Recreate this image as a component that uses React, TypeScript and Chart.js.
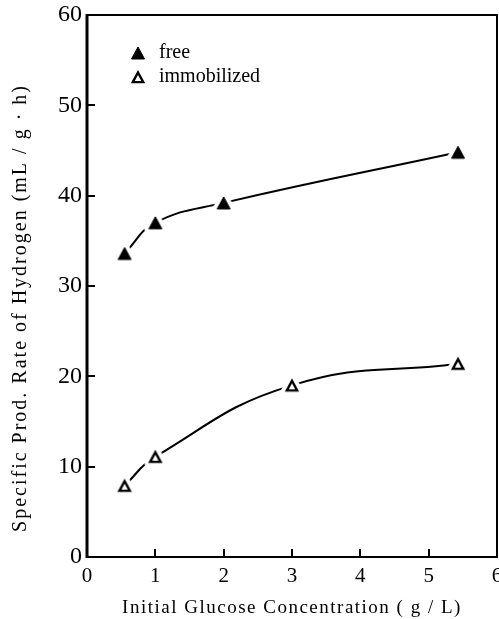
import React, { useEffect, useRef } from "react";
import { Chart, registerables } from "chart.js";

Chart.register(...registerables);

// ---- data ----
const freeX = [0.55, 1.0, 2.0, 5.43];
const freeY = [33.6, 37.0, 39.2, 44.8];
const immX = [0.55, 1.0, 3.0, 5.43];
const immY = [7.9, 11.1, 19.0, 21.4];
const xTickValues = [0, 1, 2, 3, 4, 5, 6];
const yTickValues = [0, 10, 20, 30, 40, 50, 60];
const seriesLabels = ["free", "immobilized"];
const xTitle = "Initial Glucose Concentration ( g / L)";
const yTitle = "Specific Prod. Rate of Hydrogen (mL / g · h)";

const FONT = "'Liberation Serif', 'Times New Roman', serif";

function makeTriangle(filled: boolean): HTMLCanvasElement {
  const c = document.createElement("canvas");
  c.width = 30;
  c.height = 30;
  const ctx = c.getContext("2d")!;
  const cx = 15, cy = 15;
  const w = 6.5, h = 6;
  const path = () => {
    ctx.beginPath();
    ctx.moveTo(cx, cy - h);
    ctx.lineTo(cx + w, cy + h);
    ctx.lineTo(cx - w, cy + h);
    ctx.closePath();
  };
  // white halo to break the curve near the marker
  path();
  ctx.lineJoin = "round";
  ctx.strokeStyle = "#fff";
  ctx.lineWidth = 9;
  ctx.stroke();
  ctx.fillStyle = "#fff";
  ctx.fill();
  if (filled) {
    path();
    ctx.fillStyle = "#000";
    ctx.fill();
    ctx.lineJoin = "miter";
    ctx.strokeStyle = "#000";
    ctx.lineWidth = 1;
    ctx.stroke();
  } else {
    ctx.beginPath();
    ctx.moveTo(cx, cy - h + 1.5);
    ctx.lineTo(cx + w - 1.3, cy + h - 0.9);
    ctx.lineTo(cx - w + 1.3, cy + h - 0.9);
    ctx.closePath();
    ctx.lineJoin = "miter";
    ctx.strokeStyle = "#000";
    ctx.lineWidth = 2.4;
    ctx.stroke();
  }
  return c;
}

export default function App() {
  const ref = useRef<HTMLCanvasElement | null>(null);

  useEffect(() => {
    document.body.style.margin = "0";
    const canvas = ref.current;
    if (!canvas) return;
    const filledTri = makeTriangle(true);
    const openTri = makeTriangle(false);

    const deco = {
      id: "deco",
      beforeDatasetsDraw(chart: any) {
        const { ctx, chartArea: a } = chart;
        ctx.save();
        ctx.strokeStyle = "#000";
        ctx.lineWidth = 2;
        ctx.strokeRect(a.left, a.top, a.right - a.left, a.bottom - a.top);
        ctx.lineWidth = 3;
        ctx.beginPath();
        ctx.moveTo(a.left, a.top - 1);
        ctx.lineTo(a.left, a.bottom + 1);
        ctx.stroke();
        ctx.restore();
      },
      afterDraw(chart: any) {
        const { ctx, chartArea: a } = chart;
        ctx.save();
        // legend
        const lx = a.left + 51;
        const rows = [
          { img: filledTri, y: a.top + 38, text: seriesLabels[0] },
          { img: openTri, y: a.top + 62, text: seriesLabels[1] },
        ];
        ctx.fillStyle = "#000";
        ctx.font = `20px ${FONT}`;
        ctx.textBaseline = "middle";
        ctx.textAlign = "left";
        for (const r of rows) {
          ctx.drawImage(r.img, lx - r.img.width / 2, r.y - r.img.height / 2);
          ctx.fillText(r.text, a.left + 72, r.y);
        }
        // x title
        (ctx as any).letterSpacing = "1.5px";
        ctx.font = `19px ${FONT}`;
        ctx.textAlign = "center";
        ctx.fillText(xTitle, (a.left + a.right) / 2, 608);
        // y title
        (ctx as any).letterSpacing = "2px";
        ctx.font = `20px ${FONT}`;
        ctx.translate(21, 308);
        ctx.rotate(-Math.PI / 2);
        ctx.fillText(yTitle, 0, 0);
        ctx.restore();
      },
    };

    const chart = new Chart(canvas, {
      type: "line",
      data: {
        datasets: [
          {
            label: seriesLabels[0],
            data: freeX.map((x, i) => ({ x, y: freeY[i] })),
            borderColor: "#000",
            borderWidth: 2,
            tension: 0.45,
            pointStyle: filledTri as any,
            pointRadius: 7,
            fill: false,
          },
          {
            label: seriesLabels[1],
            data: immX.map((x, i) => ({ x, y: immY[i] })),
            borderColor: "#000",
            borderWidth: 2,
            tension: 0.45,
            pointStyle: openTri as any,
            pointRadius: 7,
            fill: false,
          },
        ],
      },
      options: {
        animation: false,
        responsive: false,
        events: [],
        layout: { autoPadding: false, padding: { top: 15, right: 2, left: 0, bottom: 0 } },
        plugins: {
          legend: { display: false },
          tooltip: { enabled: false },
          title: { display: false },
        },
        scales: {
          x: {
            type: "linear",
            min: 0,
            max: 6,
            afterBuildTicks(scale: any) {
              scale.ticks = xTickValues.map((v) => ({ value: v }));
            },
            afterFit(scale: any) {
              scale.height = 62;
              scale.paddingLeft = 0;
              scale.paddingRight = 0;
            },
            border: { display: false },
            grid: {
              drawOnChartArea: false,
              drawTicks: true,
              tickLength: -8,
              color: "#000",
              lineWidth: 2,
            },
            ticks: {
              color: "#000",
              padding: 15,
              maxRotation: 0,
              autoSkip: false,
              font: { family: FONT, size: 21 },
            },
          },
          y: {
            type: "linear",
            min: 0,
            max: 60,
            afterBuildTicks(scale: any) {
              scale.ticks = yTickValues.map((v) => ({ value: v }));
            },
            afterFit(scale: any) {
              scale.width = 87;
              scale.paddingTop = 0;
              scale.paddingBottom = 0;
            },
            border: { display: false },
            grid: {
              drawOnChartArea: false,
              drawTicks: true,
              tickLength: -8,
              color: "#000",
              lineWidth: 2,
            },
            ticks: {
              color: "#000",
              padding: 13,
              autoSkip: false,
              font: { family: FONT, size: 24 },
            },
          },
        },
      },
      plugins: [deco],
    });

    return () => {
      chart.destroy();
    };
  }, []);

  return (
    <canvas
      ref={ref}
      width={499}
      height={619}
      style={{ display: "block", width: 499, height: 619 }}
    />
  );
}
